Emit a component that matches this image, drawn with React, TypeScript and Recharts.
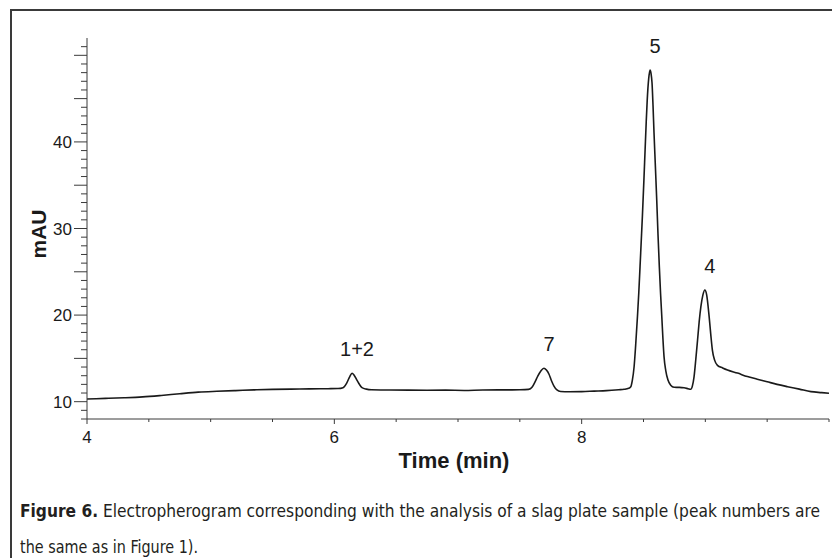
import React from 'react';
import { LineChart, Line, XAxis, YAxis, ReferenceDot } from 'recharts';

// Migration time (min) and detector response (mAU) of the trace
const timeMin = [
  4.0, 4.15, 4.3, 4.45, 4.6, 4.75, 4.9, 5.05, 5.2, 5.35, 5.5, 5.65, 5.8, 5.95,
  6.03, 6.07, 6.1, 6.125, 6.143, 6.16, 6.184, 6.205, 6.224, 6.26, 6.3,
  6.45, 6.6, 6.75, 6.9, 7.05, 7.2, 7.35, 7.5, 7.57,
  7.6, 7.625, 7.645, 7.67, 7.695, 7.715, 7.735, 7.755, 7.776, 7.8, 7.83,
  7.9, 8.0, 8.1, 8.2, 8.3, 8.343, 8.38, 8.397,
  8.41, 8.424, 8.437, 8.451, 8.462, 8.472, 8.491, 8.503, 8.513, 8.522, 8.53, 8.542,
  8.553, 8.561, 8.569, 8.577, 8.585, 8.596, 8.607, 8.617, 8.628, 8.638, 8.648,
  8.657, 8.666, 8.68, 8.698, 8.72, 8.747, 8.79, 8.828, 8.86, 8.882,
  8.895, 8.909, 8.923, 8.937, 8.95, 8.964, 8.98, 8.996, 9.01, 9.031, 9.045,
  9.057, 9.075, 9.098, 9.14, 9.179, 9.26, 9.34, 9.42, 9.5, 9.58, 9.665,
  9.76, 9.854, 9.94, 10.0,
];
const absorbance = [
  10.31, 10.38, 10.45, 10.55, 10.72, 10.92, 11.1, 11.2, 11.28, 11.36, 11.42, 11.45, 11.48, 11.5,
  11.52, 11.62, 12.15, 12.9, 13.28, 13.05, 12.45, 11.95, 11.62, 11.45, 11.38,
  11.35, 11.33, 11.32, 11.33, 11.3, 11.35, 11.36, 11.38, 11.42,
  11.7, 12.35, 12.95, 13.55, 13.86, 13.65, 13.2, 12.45, 11.8, 11.35, 11.18,
  11.15, 11.16, 11.22, 11.28, 11.38, 11.43, 11.55, 11.73,
  12.5, 14.04, 16.6, 19.8, 22.6, 25.6, 31.4, 35.5, 39.1, 42.3, 44.8, 47.3,
  48.3, 47.9, 46.8, 44.2, 41.05, 37.2, 33.3, 29.4, 25.6, 22.5, 19.8,
  17.3, 15.2, 13.6, 12.5, 11.9, 11.66, 11.65, 11.6, 11.5, 11.43,
  11.8, 12.9, 14.9, 17.1, 19.2, 20.97, 22.3, 22.9, 22.4, 19.8, 17.6,
  15.96, 14.8, 14.2, 13.9, 13.66, 13.3, 12.9, 12.6, 12.3, 12.0, 11.73,
  11.45, 11.16, 11.05, 10.98,
];

// Peak identification numbers and their apex positions
const peakNames = ['1+2', '7', '5', '4'];
const peakTimes = [6.143, 7.695, 8.553, 8.996];
const peakHeights = [13.28, 13.86, 48.3, 22.9];

// Axis ticks
const xTicks = [4, 4.5, 5, 5.5, 6, 6.5, 7, 7.5, 8, 8.5, 9, 9.5, 10];
const xTickLabels = [4, 6, 8];
const yTicks = Array.from({ length: 44 }, (_, i) => 8 + i);
const yTickLabels = [10, 20, 30, 40];

const data = timeMin.map((t, i) => ({ t, v: absorbance[i] }));

const INK = '#1a1a1a';
const AXIS = '#3a3a3a';
const SANS = '"Liberation Sans", Arial, Helvetica, sans-serif';
const NARROW = '"Liberation Sans Narrow", "DejaVu Sans Condensed", "Open Sans", sans-serif';

const YTick = (props: any) => {
  const { x, y, payload } = props;
  const v = payload.value as number;
  const len = v % 5 === 0 ? 13 : 6;
  return (
    <g>
      <line x1={x - len} x2={x} y1={y} y2={y} stroke={AXIS} strokeWidth={1} />
      {yTickLabels.includes(v) && (
        <text x={x - 15} y={y} dy="0.36em" textAnchor="end" fontFamily={SANS} fontSize={17} fill={INK}>
          {v}
        </text>
      )}
    </g>
  );
};

const XTick = (props: any) => {
  const { x, y, payload } = props;
  const v = payload.value as number;
  const labeled = xTickLabels.includes(v);
  return (
    <g>
      <line x1={x} x2={x} y1={y} y2={y + (labeled ? 5 : 3)} stroke={AXIS} strokeWidth={1} />
      {labeled && (
        <text x={x} y={y + 24} textAnchor="middle" fontFamily={SANS} fontSize={17} fill={INK}>
          {v}
        </text>
      )}
    </g>
  );
};

const PeakLabel = (name: string) => (props: any) => (
  <text x={props.cx + 5} y={props.cy - 17} textAnchor="middle" fontFamily={SANS} fontSize={20} fill={INK}>
    {name}
  </text>
);

export default function App() {
  return (
    <div style={{ position: 'absolute', left: 0, top: 0, width: 832, height: 558, background: '#fff', overflow: 'hidden' }}>
      <div
        style={{
          position: 'absolute',
          left: 10,
          top: 9,
          width: 830,
          height: 560,
          borderLeft: `2px solid ${AXIS}`,
          borderTop: `2px solid ${AXIS}`,
        }}
      />
      <div style={{ position: 'absolute', left: 0, top: 0 }}>
        <LineChart width={832} height={558} data={data} margin={{ top: 38, right: 3, bottom: 109, left: 0 }}>
          <XAxis
            dataKey="t"
            type="number"
            domain={[4, 10]}
            ticks={xTicks}
            interval={0}
            height={30}
            tickSize={0}
            tickMargin={0}
            tickLine={false}
            tick={<XTick />}
            axisLine={{ stroke: AXIS, strokeWidth: 1 }}
            allowDataOverflow
          />
          <YAxis
            type="number"
            domain={[8, 52]}
            ticks={yTicks}
            interval={0}
            width={87}
            tickSize={0}
            tickMargin={0}
            tickLine={false}
            tick={<YTick />}
            axisLine={{ stroke: AXIS, strokeWidth: 1 }}
            allowDataOverflow
          />
          <Line
            type="monotone"
            dataKey="v"
            stroke={INK}
            strokeWidth={1.6}
            dot={false}
            isAnimationActive={false}
          />
          {peakNames.map((name, i) => (
            <ReferenceDot
              key={name}
              x={peakTimes[i]}
              y={peakHeights[i]}
              r={0}
              ifOverflow="visible"
              shape={PeakLabel(name)}
            />
          ))}
        </LineChart>
      </div>
      <svg width={832} height={558} style={{ position: 'absolute', left: 0, top: 0, pointerEvents: 'none' }}>
        <text x={454} y={468} textAnchor="middle" fontFamily={SANS} fontWeight="bold" fontSize={22} fill={INK}>
          Time (min)
        </text>
        <text
          transform="translate(46, 234) rotate(-90)"
          textAnchor="middle"
          fontFamily={SANS}
          fontWeight="bold"
          fontSize={21}
          fill={INK}
        >
          mAU
        </text>
        <text x={20} y={517} fontFamily={NARROW} fontSize={17} fill="#231f20" textLength={800} lengthAdjust="spacingAndGlyphs">
          <tspan fontWeight="bold">Figure 6.</tspan>
          <tspan> Electropherogram corresponding with the analysis of a slag plate sample (peak numbers are</tspan>
        </text>
        <text x={20} y={553} fontFamily={NARROW} fontSize={17} fill="#231f20" textLength={178} lengthAdjust="spacingAndGlyphs">
          the same as in Figure 1).
        </text>
      </svg>
    </div>
  );
}
